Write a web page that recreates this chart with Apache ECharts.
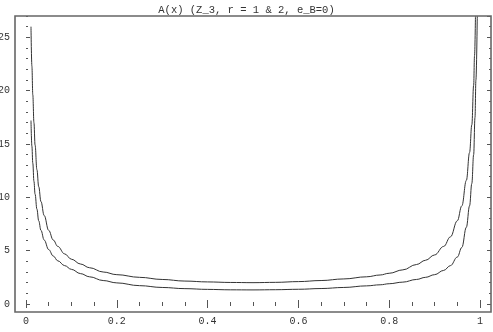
<!DOCTYPE html>
<html>
<head>
<meta charset="utf-8">
<script src="https://cdn.jsdelivr.net/npm/echarts@6/dist/echarts.min.js"></script>
<style>html,body{margin:0;padding:0;background:#fff;}#c{width:493px;height:332px;}</style>
</head>
<body>
<div id="c"></div>
<script>
// ---- data ----
const titleText = 'A(x) (Z_3, r = 1 & 2, e_B=0)';
const xTickValues = [0, 0.2, 0.4, 0.6, 0.8, 1];
const xTickLabels = ['0', '0.2', '0.4', '0.6', '0.8', '1'];
const yTickValues = [0, 5, 10, 15, 20, 25];
const yTickLabels = ['0', '5', '10', '15', '20', '25'];

// upper curve (r = 2)
const xUpper = [0.011, 0.013, 0.015, 0.0175, 0.020, 0.024, 0.028, 0.033, 0.040, 0.050, 0.060, 0.070, 0.085, 0.10, 0.12, 0.14, 0.17, 0.20, 0.25, 0.30, 0.35, 0.40, 0.45, 0.50, 0.55, 0.60, 0.65, 0.70, 0.75, 0.78, 0.80, 0.83, 0.86, 0.88, 0.90, 0.92, 0.935, 0.95, 0.96, 0.97, 0.977, 0.982, 0.986, 0.988, 0.990];
const yUpper = [26.0, 22.3, 19.6, 17.0, 14.9, 12.6, 11.0, 9.6, 8.3, 6.9, 6.0, 5.4, 4.7, 4.2, 3.75, 3.4, 3.0, 2.75, 2.5, 2.3, 2.15, 2.07, 2.02, 2.0, 2.03, 2.1, 2.2, 2.35, 2.55, 2.72, 2.88, 3.2, 3.7, 4.1, 4.6, 5.4, 6.3, 7.8, 9.2, 11.6, 14.2, 16.8, 20.5, 23.3, 27.0];

// lower curve (r = 1)
const xLower = [0.011, 0.013, 0.015, 0.0175, 0.020, 0.024, 0.028, 0.033, 0.040, 0.050, 0.060, 0.070, 0.085, 0.10, 0.12, 0.14, 0.17, 0.20, 0.25, 0.30, 0.35, 0.40, 0.45, 0.50, 0.55, 0.60, 0.65, 0.70, 0.75, 0.78, 0.80, 0.83, 0.86, 0.88, 0.90, 0.92, 0.935, 0.95, 0.96, 0.97, 0.977, 0.982, 0.986, 0.989, 0.991, 0.994];
const yLower = [17.2, 14.8, 13.2, 11.5, 10.3, 8.9, 7.8, 6.9, 6.0, 5.1, 4.5, 4.05, 3.6, 3.25, 2.85, 2.55, 2.2, 1.98, 1.72, 1.55, 1.44, 1.37, 1.33, 1.32, 1.34, 1.38, 1.45, 1.55, 1.7, 1.8, 1.9, 2.05, 2.3, 2.5, 2.75, 3.15, 3.6, 4.4, 5.3, 7.2, 9.2, 11.3, 14.0, 17.5, 21.0, 27.0];

// ---- chart ----
const FONT = 'Liberation Mono';
const INK = '#333';
const FRAME = '#666';
function lookup(values, labels, v) {
  for (let i = 0; i < values.length; i++) if (Math.abs(values[i] - v) < 1e-6) return labels[i];
  return '';
}
const pairs = (xs, ys) => xs.map((x, i) => [x, ys[i]]);

const chart = echarts.init(document.getElementById('c'), null, {renderer: 'canvas'});
const tickStyle = () => ({color: '#555', width: 1});
const major = () => ({show: true, inside: true, length: 4, lineStyle: tickStyle()});
const minor = () => ({show: true, inside: true, length: 2, lineStyle: tickStyle()});

chart.setOption({
  animation: false,
  title: {
    text: titleText, left: 'center', top: 0,
    textStyle: {fontFamily: FONT, fontSize: 10.5, fontWeight: 'normal', color: INK}
  },
  graphic: {elements: [
    {type: 'rect', z: 100,
     shape: {x: 15, y: 16, width: 476, height: 296},
     style: {fill: null, stroke: FRAME, lineWidth: 1.6}}
  ]},
  grid: [
    {left: 26, right: 13, top: 16, bottom: 28, outerBoundsMode: 'none'}
  ],
  xAxis: [
    {type: 'value', gridIndex: 0, position: 'bottom', offset: 8, min: 0, max: 1, interval: 0.2,
     axisLine: {show: false}, splitLine: {show: false},
     axisTick: major(),
     minorTick: Object.assign({splitNumber: 4}, minor()),
     axisLabel: {margin: 4, fontFamily: FONT, fontSize: 10, color: INK,
                 formatter: v => lookup(xTickValues, xTickLabels, v)}},
    {type: 'value', gridIndex: 0, position: 'top', offset: 0, min: 0, max: 1, interval: 0.2,
     axisLine: {show: false}, splitLine: {show: false},
     axisTick: major(),
     minorTick: Object.assign({splitNumber: 4}, minor()),
     axisLabel: {show: false}}
  ],
  yAxis: [
    {type: 'value', gridIndex: 0, position: 'left', offset: 11, min: 0, max: 27, interval: 5,
     axisLine: {show: false}, splitLine: {show: false},
     axisTick: major(),
     axisLabel: {margin: 5, fontFamily: FONT, fontSize: 10, color: INK, showMaxLabel: false,
                 formatter: v => lookup(yTickValues, yTickLabels, v)}},
    {type: 'value', gridIndex: 0, position: 'left', offset: 11, min: 0, max: 27, interval: 1,
     axisLine: {show: false}, splitLine: {show: false},
     axisTick: minor(), axisLabel: {show: false}},
    {type: 'value', gridIndex: 0, position: 'right', offset: 11, min: 0, max: 27, interval: 5,
     axisLine: {show: false}, splitLine: {show: false},
     axisTick: major(), axisLabel: {show: false}},
    {type: 'value', gridIndex: 0, position: 'right', offset: 11, min: 0, max: 27, interval: 1,
     axisLine: {show: false}, splitLine: {show: false},
     axisTick: minor(), axisLabel: {show: false}}
  ],
  series: [
    {type: 'line', xAxisIndex: 0, yAxisIndex: 0, data: pairs(xUpper, yUpper),
     showSymbol: false, smooth: 0.4, smoothMonotone: 'x', clip: true,
     lineStyle: {color: INK, width: 1}},
    {type: 'line', xAxisIndex: 0, yAxisIndex: 0, data: pairs(xLower, yLower),
     showSymbol: false, smooth: 0.4, smoothMonotone: 'x', clip: true,
     lineStyle: {color: INK, width: 1}}
  ]
});
</script>
</body>
</html>
